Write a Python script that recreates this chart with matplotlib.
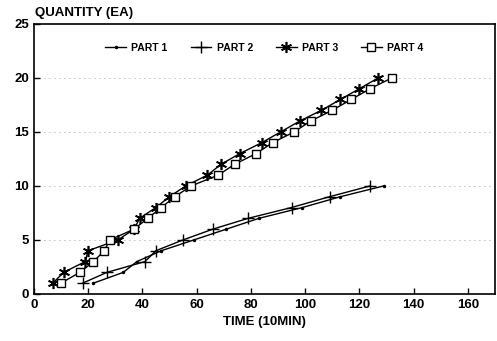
import matplotlib
matplotlib.use("Agg")
import matplotlib.pyplot as plt

plt.rcParams['font.family'] = ['Liberation Sans', 'DejaVu Sans']
plt.rcParams['font.weight'] = 'bold'

# quantity 1..n for each part, time
p1_t = [22, 33, 38, 47, 59, 71, 83, 99, 113, 129]
p1_q = [1, 2, 3, 4, 5, 6, 7, 8, 9, 10]
p2_t = [18, 27, 41, 45, 55, 66, 79, 95, 109, 124]
p2_q = [1, 2, 3, 4, 5, 6, 7, 8, 9, 10]
p3_t = [7, 11, 19, 20, 31, 37, 39, 45, 50, 56, 64, 69, 76, 84, 91, 98, 106, 113, 120, 127]
p3_q = list(range(1, 21))
p4_t = [10, 17, 22, 26, 28, 37, 42, 47, 52, 58, 68, 74, 82, 88, 96, 102, 110, 117, 124, 132]
p4_q = list(range(1, 21))

fig = plt.figure(figsize=(4.97, 3.41), dpi=100)
ax = fig.add_axes([0.068, 0.138, 0.928, 0.792])

ax.plot(p1_t, p1_q, color='black', lw=1, marker='.', ms=3, label='PART 1')
ax.plot(p2_t, p2_q, color='black', lw=1, marker='+', ms=8, mew=1, label='PART 2')
ax.plot(p3_t, p3_q, color='black', lw=1, marker=(6, 2, 0), ms=8, mew=1.2, label='PART 3')
ax.plot(p4_t, p4_q, color='black', lw=1, marker='s', ms=5.5, mfc='white', mew=1, label='PART 4')

ax.set_xlim(0, 170)
ax.set_ylim(0, 25)
ax.set_xticks(range(0, 161, 20))
ax.set_yticks(range(0, 26, 5))
ax.tick_params(direction='in', length=4, width=1, labelsize=9.5)
for lab in ax.get_xticklabels() + ax.get_yticklabels():
    lab.set_fontweight('bold')
for s in ax.spines.values():
    s.set_linewidth(1.2)

for yv in [5, 10, 15, 20]:
    ax.axhline(yv, color='gray', lw=0.6, ls=(0, (1, 5)), zorder=0)

ax.legend(loc='upper center', bbox_to_anchor=(0.5, 0.965), ncol=4, frameon=False,
          fontsize=7.5, handlelength=2.0, handletextpad=0.5, columnspacing=2.2)

fig.text(0.07, 0.945, 'QUANTITY (EA)', fontsize=9.5, fontweight='bold', va='bottom')
ax.set_xlabel('TIME (10MIN)', fontsize=9.5, fontweight='bold', labelpad=4)

plt.savefig('out.png', dpi=100)
